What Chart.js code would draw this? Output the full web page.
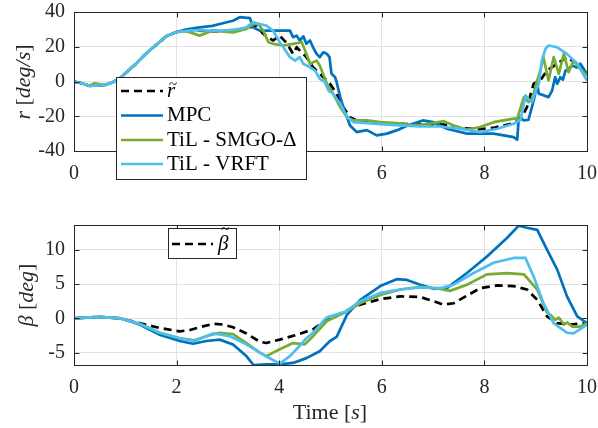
<!DOCTYPE html>
<html>
<head>
<meta charset="utf-8">
<script src="https://cdn.jsdelivr.net/npm/chart.js@4.4.1/dist/chart.umd.min.js"></script>
<style>
    body { margin: 0; background: #fff; }
    #wrap { position: relative; width: 598px; height: 428px; }
    canvas { position: absolute; left: 0; }
    #top-plot { top: 0; }
    #bottom-plot { top: 200px; }
</style>
</head>
<body>
<div id="wrap">
    <canvas id="top-plot" width="598" height="200"></canvas>
    <canvas id="bottom-plot" width="598" height="228"></canvas>
</div>
<script>
// ticks
const timeTicks = [0, 2, 4, 6, 8, 10];
const rTicks = [-40, -20, 0, 20, 40];
const betaTicks = [-5, 0, 5, 10];

// yaw rate r [deg/s]
const rRefT = [0, 0.15, 0.3, 0.45, 0.6, 0.75, 0.9, 1.05, 1.2, 1.4, 1.6, 1.8, 2.0, 2.3, 2.6, 2.9, 3.2, 3.43, 3.55, 3.69, 3.88, 4.01, 4.15, 4.27, 4.34, 4.53, 4.66, 4.86, 4.99, 5.12, 5.25, 5.38, 5.58, 5.8, 6.0, 6.5, 7.0, 7.3, 7.6, 7.9, 8.2, 8.5, 8.7, 8.83, 8.96, 9.09, 9.22, 9.42, 9.61, 9.81, 10];
const rRefV = [0, -1, -2.5, -2.2, -2, -0.5, 2, 6, 10, 16, 21, 26, 28.5, 29.5, 29, 29, 29.5, 31.2, 32, 27.4, 23.6, 26.4, 22, 15.9, 19.7, 14, 8.2, 2.5, -1.3, -7, -14.8, -20.5, -23.4, -23.5, -24, -24.5, -24.5, -25, -27, -27.5, -26.5, -24.5, -22, -14.8, -1.3, 0.6, 6.3, 10.2, 14, 10.2, 3.4];

const rMpcT = [0, 0.15, 0.3, 0.45, 0.6, 0.75, 0.9, 1.05, 1.2, 1.4, 1.6, 1.8, 2.0, 2.2, 2.45, 2.7, 2.9, 3.1, 3.23, 3.43, 3.49, 3.62, 3.88, 4.21, 4.27, 4.34, 4.40, 4.47, 4.53, 4.60, 4.66, 4.73, 4.79, 4.86, 4.93, 4.98, 5.02, 5.09, 5.12, 5.19, 5.25, 5.32, 5.38, 5.51, 5.71, 5.9, 6.1, 6.3, 6.5, 6.8, 7.0, 7.27, 7.66, 8.18, 8.57, 8.64, 8.67, 8.77, 8.86, 8.96, 9.03, 9.06, 9.16, 9.25, 9.32, 9.38, 9.42, 9.48, 9.53, 9.58, 9.64, 9.71, 9.8, 9.87, 10];
const rMpcV = [0, -1, -2.5, -2.2, -2, -0.5, 2, 6, 10, 16, 21, 26, 28.5, 30, 31.2, 32, 33.5, 35, 37, 36.5, 31.2, 29.3, 29.3, 29.3, 25.5, 26.4, 23.6, 26, 21.7, 23.6, 19.7, 15.9, 14, 16.8, 15.9, 14, 4.4, 2.5, -0.4, -9, -14.8, -20.5, -25.3, -29.1, -28, -31, -30, -28, -25.3, -22.4, -23.4, -27.2, -30, -30, -32, -33.5, -20.5, -22.4, -22, -11, -1.3, -7, -8, -9, -5.2, 2.5, -1.3, 2.5, 1, 6.3, 7.3, 9.2, 8, 10.2, 4.4];

const rSmgoT = [0, 0.15, 0.3, 0.4, 0.6, 0.75, 0.9, 1.05, 1.2, 1.4, 1.6, 1.8, 2.0, 2.2, 2.45, 2.7, 3.1, 3.36, 3.5, 3.59, 3.69, 3.79, 3.88, 4.08, 4.27, 4.44, 4.53, 4.6, 4.73, 4.79, 4.93, 5.05, 5.19, 5.32, 5.45, 5.71, 5.97, 6.29, 6.62, 6.94, 7.2, 7.4, 7.66, 7.92, 8.18, 8.57, 8.64, 8.77, 8.86, 8.93, 9.03, 9.09, 9.15, 9.25, 9.35, 9.45, 9.55, 9.64, 9.74, 9.84, 10];
const rSmgoV = [0, -1, -2.3, -1, -2, -0.5, 2, 6, 10, 16, 21, 26, 28.5, 29, 26.4, 29.3, 28.3, 30.3, 33, 33.1, 29.3, 22.6, 21.7, 20.7, 21.7, 22.6, 15.9, 10.2, 12, 9.2, -1.3, -7, -14.8, -20.5, -22.4, -22.4, -23.4, -24, -25.3, -24.3, -22.8, -25.3, -27.8, -26.2, -23.4, -21.4, -21.4, -9, -11.9, -10, 0.6, 6.3, 14, 0.6, 14, 4.4, 16, 5.3, 12, 8.2, 3.4];

const rVrftT = [0, 0.15, 0.3, 0.45, 0.6, 0.75, 0.9, 1.05, 1.2, 1.4, 1.6, 1.8, 2.0, 2.3, 2.7, 3.0, 3.23, 3.35, 3.49, 3.62, 3.75, 3.88, 4.01, 4.08, 4.21, 4.31, 4.40, 4.47, 4.60, 4.70, 4.79, 4.89, 4.96, 5.05, 5.19, 5.32, 5.45, 5.71, 5.97, 6.36, 6.75, 7.14, 7.53, 7.92, 8.25, 8.57, 8.70, 8.73, 8.80, 8.86, 8.93, 9.0, 9.06, 9.12, 9.19, 9.25, 9.42, 9.61, 9.81, 10];
const rVrftV = [0, -1, -2.5, -2.2, -2, -0.5, 2, 6, 10, 16, 21, 26, 28.5, 29.5, 29.3, 29.5, 30.3, 31, 34, 33.1, 32.2, 29.3, 22.6, 19.7, 14, 12, 14, 10.2, 8.2, 6.3, 1.5, -0.4, -5.2, -7, -12.8, -20.5, -23.4, -24, -24.5, -25.3, -25.9, -25.9, -27.2, -29.1, -27.2, -24.3, -22, -18.6, -8, -10, -11.9, -5.2, -1.3, 12, 18.8, 20.7, 19.7, 15.9, 10.2, 0.6];

// side slip beta [deg]
const bRefT = [0, 0.5, 0.9, 1.28, 1.67, 2.06, 2.26, 2.45, 2.71, 2.9, 3.1, 3.36, 3.62, 3.75, 4.01, 4.34, 4.66, 4.79, 4.93, 5.19, 5.58, 5.97, 6.36, 6.75, 7.01, 7.2, 7.4, 7.66, 7.92, 8.25, 8.57, 8.83, 9.03, 9.22, 9.42, 9.67, 10];
const bRefV = [0, 0.2, 0, -0.7, -1.4, -1.9, -1.7, -1.3, -0.8, -0.9, -1.3, -2.2, -3.4, -3.6, -3.1, -2.4, -1.6, -0.9, -0.3, 0.7, 2.0, 2.8, 3.2, 3.1, 2.5, 2.0, 2.2, 3.3, 4.4, 4.8, 4.7, 4.2, 2.7, 0.3, -0.7, -0.9, -0.7];

const bMpcT = [0, 0.5, 0.9, 1.28, 1.67, 2.06, 2.32, 2.58, 2.84, 3.1, 3.36, 3.5, 3.75, 4.01, 4.27, 4.53, 4.79, 4.99, 5.12, 5.32, 5.58, 5.97, 6.29, 6.49, 6.75, 7.01, 7.27, 7.66, 8.05, 8.44, 8.67, 8.83, 9.03, 9.22, 9.42, 9.61, 9.81, 10];
const bMpcV = [0, 0.2, 0, -0.9, -2.4, -3.3, -3.7, -3.3, -3.1, -3.8, -5.5, -6.8, -6.7, -6.7, -6.5, -5.8, -4.8, -3.3, -2.7, 0.5, 2.7, 4.7, 5.7, 5.6, 4.9, 4.3, 4.4, 6.6, 9.0, 11.7, 13.5, 13.2, 12.9, 10, 7.1, 3.2, 0.3, -0.7];

const bSmgoT = [0, 0.5, 0.9, 1.28, 1.67, 2.06, 2.35, 2.58, 2.84, 3.1, 3.36, 3.62, 3.75, 4.01, 4.27, 4.5, 4.66, 4.93, 5.32, 5.58, 5.97, 6.36, 6.75, 7.14, 7.33, 7.66, 8.05, 8.44, 8.77, 9.03, 9.22, 9.29, 9.38, 9.45, 9.55, 9.62, 9.71, 9.87, 10];
const bSmgoV = [0, 0.2, 0, -0.8, -2.1, -2.9, -3.2, -2.6, -2.1, -2.3, -3.6, -5.0, -5.5, -4.5, -3.6, -3.8, -2.6, -0.4, 1.0, 2.2, 3.4, 4.2, 4.6, 4.3, 4.0, 4.9, 6.4, 6.6, 6.4, 4.2, 0.8, 0.5, -0.2, 0.1, -0.9, -0.6, -1.2, -1.2, -0.7];

const bVrftT = [0, 0.5, 0.9, 1.28, 1.67, 2.06, 2.35, 2.71, 3.04, 3.36, 3.69, 4.01, 4.21, 4.4, 4.53, 4.66, 4.92, 5.3, 5.58, 5.97, 6.36, 6.75, 7.14, 7.4, 7.79, 8.18, 8.57, 8.8, 8.96, 9.15, 9.35, 9.61, 9.74, 10];
const bVrftV = [0, 0.2, 0, -0.8, -2.1, -2.9, -3.3, -2.2, -2.6, -3.8, -5.3, -6.6, -5.5, -4.0, -2.9, -2.1, 0.1, 1.0, 2.5, 3.7, 4.2, 4.5, 4.4, 4.9, 6.6, 8.1, 8.8, 8.8, 6.1, 2.2, -0.7, -2.1, -2.2, -0.9];

const SERIF = '"Liberation Serif", "DejaVu Serif", serif';
const AXIS_GRAY = "#262626";
const FONT_SIZE = 20;
const LEGEND_SIZE = 21;
const TITLE_SIZE = 22;

function series(t, v) {
    return t.map((x, i) => ({ x: x, y: v[i] }));
}

// draw text made of upright / italic pieces, centred on (cx, cy)
function drawParts(ctx, parts, cx, cy, angle) {
    ctx.save();
    ctx.translate(cx, cy);
    ctx.rotate(angle);
    ctx.textBaseline = "middle";
    ctx.textAlign = "left";
    ctx.fillStyle = AXIS_GRAY;
    let total = 0;
    parts.forEach((p) => {
        ctx.font = (p[1] ? "italic " : "") + TITLE_SIZE + "px " + SERIF;
        total += ctx.measureText(p[0]).width;
    });
    let x = -total / 2;
    parts.forEach((p) => {
        ctx.font = (p[1] ? "italic " : "") + TITLE_SIZE + "px " + SERIF;
        ctx.fillText(p[0], x, 0);
        x += ctx.measureText(p[0]).width;
    });
    ctx.restore();
}

function drawLegend(chart, lg) {
    const ctx = chart.ctx;
    ctx.save();
    ctx.fillStyle = "#fff";
    ctx.fillRect(lg.x, lg.y, lg.w, lg.h);
    ctx.strokeStyle = AXIS_GRAY;
    ctx.lineWidth = 1;
    ctx.strokeRect(lg.x + 0.5, lg.y + 0.5, lg.w, lg.h);
    chart.data.datasets.forEach((ds, i) => {
        if (i >= lg.rows.length) return;
        const y = lg.rows[i];
        ctx.beginPath();
        ctx.setLineDash(ds.borderDash || []);
        ctx.strokeStyle = ds.borderColor;
        ctx.lineWidth = ds.borderWidth;
        ctx.moveTo(lg.x0, y);
        ctx.lineTo(lg.x1, y);
        ctx.stroke();
        ctx.setLineDash([]);
        ctx.fillStyle = "#000";
        ctx.font = (ds.tilde ? "italic " : "") + LEGEND_SIZE + "px " + SERIF;
        ctx.textBaseline = "middle";
        ctx.textAlign = "left";
        ctx.fillText(ds.label, lg.tx, y);
        if (ds.tilde) {
            // tilde accent over the symbol
            const w = ctx.measureText(ds.label).width;
            ctx.font = "15px " + SERIF;
            ctx.textAlign = "center";
            ctx.fillText("~", lg.tx + w / 2 + 2, y - lg.tildeUp);
        }
    });
    ctx.restore();
}

// box, inward tick marks, legend and axis titles
function makeFrame(cfg) {
    return {
        id: "frame",
        afterDatasetsDraw(chart) {
            const ctx = chart.ctx;
            const a = chart.chartArea;
            const xs = chart.scales.x;
            const ys = chart.scales.y;
            const L = Math.round(a.left) + 0.5;
            const R = Math.round(a.right) + 0.5;
            const T = Math.round(a.top) + 0.5;
            const B = Math.round(a.bottom) + 0.5;
            ctx.save();
            ctx.strokeStyle = AXIS_GRAY;
            ctx.lineWidth = 1;
            ctx.beginPath();
            xs.ticks.forEach((t) => {
                const px = Math.round(xs.getPixelForValue(t.value)) + 0.5;
                ctx.moveTo(px, B);
                ctx.lineTo(px, B - 5);
                ctx.moveTo(px, T);
                ctx.lineTo(px, T + 5);
            });
            ys.ticks.forEach((t) => {
                const py = Math.round(ys.getPixelForValue(t.value)) + 0.5;
                ctx.moveTo(L, py);
                ctx.lineTo(L + 5, py);
                ctx.moveTo(R, py);
                ctx.lineTo(R - 5, py);
            });
            ctx.stroke();
            ctx.strokeRect(L, T, R - L, B - T);
            ctx.restore();
        },
        afterDraw(chart) {
            drawLegend(chart, cfg.legend);
            cfg.titles.forEach((tt) => {
                drawParts(chart.ctx, tt.parts, tt.x, tt.y, tt.angle);
            });
        },
    };
}

function makeChart(id, datasets, yMin, yMax, yTicks, padTop, xHeight, frameCfg) {
    const ctx = document.getElementById(id).getContext("2d");
    const tickFont = { family: SERIF, size: FONT_SIZE };
    return new Chart(ctx, {
        type: "line",
        data: { datasets: datasets },
        options: {
            responsive: false,
            animation: false,
            layout: { padding: { top: padTop, right: 11, left: 0, bottom: 0 } },
            elements: {
                point: { radius: 0 },
                line: { tension: 0, borderJoinStyle: "round" },
            },
            plugins: { legend: { display: false }, tooltip: { enabled: false } },
            scales: {
                x: {
                    type: "linear",
                    min: 0,
                    max: 10,
                    afterBuildTicks: (s) => {
                        s.ticks = timeTicks.map((v) => ({ value: v }));
                    },
                    afterFit: (s) => {
                        s.height = xHeight;
                        s.paddingLeft = 0;
                        s.paddingRight = 0;
                    },
                    grid: { color: "#e2e2e2", drawTicks: false },
                    border: { display: false },
                    ticks: { padding: 11, color: AXIS_GRAY, font: tickFont, maxRotation: 0, autoSkip: false },
                },
                y: {
                    type: "linear",
                    min: yMin,
                    max: yMax,
                    afterBuildTicks: (s) => {
                        s.ticks = yTicks.map((v) => ({ value: v }));
                    },
                    afterFit: (s) => {
                        s.width = 74;
                        s.paddingTop = 0;
                        s.paddingBottom = 0;
                    },
                    grid: { color: "#e2e2e2", drawTicks: false },
                    border: { display: false },
                    ticks: { padding: 9, color: AXIS_GRAY, font: tickFont, autoSkip: false },
                },
            },
        },
        plugins: [makeFrame(frameCfg)],
    });
}

function line(label, t, v, color, order, dashed) {
    return {
        label: label,
        data: series(t, v),
        borderColor: color,
        borderWidth: 2.7,
        borderDash: dashed ? [8, 5] : [],
        tilde: dashed,
        fill: false,
        order: order,
    };
}

makeChart(
    "top-plot",
    [
        line("r", rRefT, rRefV, "#000000", 4, true),
        line("MPC", rMpcT, rMpcV, "#0072BD", 3, false),
        line("TiL - SMGO-\u0394", rSmgoT, rSmgoV, "#77AC30", 2, false),
        line("TiL - VRFT", rVrftT, rVrftV, "#4DBEEE", 1, false),
    ],
    -40, 40, rTicks, 12, 49,
    {
        legend: { x: 116, y: 77, w: 190, h: 102, rows: [91, 115.5, 140, 164], x0: 121, x1: 163, tx: 167, tildeUp: 6 },
        titles: [
            { parts: [["r", true], [" [", false], ["deg/s", true], ["]", false]], x: 24, y: 82, angle: -Math.PI / 2 },
        ],
    }
);

makeChart(
    "bottom-plot",
    [
        line("\u03B2", bRefT, bRefV, "#000000", 4, true),
        line("MPC", bMpcT, bMpcV, "#0072BD", 3, false),
        line("TiL - SMGO-\u0394", bSmgoT, bSmgoV, "#77AC30", 2, false),
        line("TiL - VRFT", bVrftT, bVrftV, "#4DBEEE", 1, false),
    ],
    -6.8, 13.6, betaTicks, 25, 63,
    {
        legend: { x: 168, y: 28, w: 68, h: 30, rows: [44], x0: 172, x1: 213, tx: 218, tildeUp: 14 },
        titles: [
            { parts: [["\u03B2", true], [" [", false], ["deg", true], ["]", false]], x: 27, y: 95, angle: -Math.PI / 2 },
            { parts: [["Time [", false], ["s", true], ["]", false]], x: 330, y: 213, angle: 0 },
        ],
    }
);
</script>
</body>
</html>
